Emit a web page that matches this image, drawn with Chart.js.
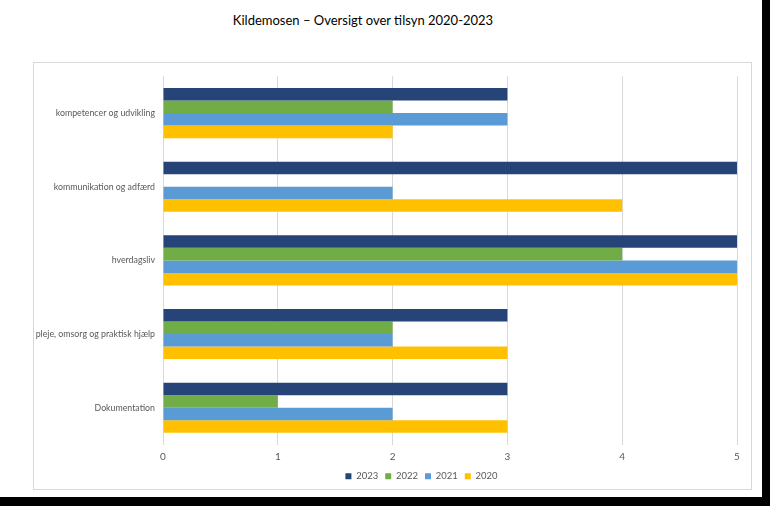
<!DOCTYPE html>
<html>
<head>
<meta charset="utf-8">
<script src="https://cdn.jsdelivr.net/npm/chart.js@4"></script>
<style>
  body { margin: 0; background: #000; }
  #page { position: absolute; left: 0; top: 0; width: 762px; height: 497px; background: #fff; }
  #title { position: absolute; left: 0; width: 726px; top: 12px; text-align: center;
           font-family: Lato, "Open Sans", sans-serif; font-size: 13px; color: #000; }
  #box { position: absolute; left: 33px; top: 62px; width: 717px; height: 426px; border: 1px solid #d9d9d9; }
  #box canvas { display: block; }
</style>
</head>
<body>
<div id="page">
  <div id="title">Kildemosen – Oversigt over tilsyn 2020-2023</div>
  <div id="box"><canvas id="chart" width="717" height="426"></canvas></div>
</div>
<script>
const categories = ['kompetencer og udvikling', 'kommunikation og adfærd', 'hverdagsliv', 'pleje, omsorg og praktisk hjælp', 'Dokumentation'];
const years = ['2023', '2022', '2021', '2020'];
const values2023 = [3, 5, 5, 3, 3];
const values2022 = [2, 0, 4, 2, 1];
const values2021 = [3, 2, 5, 2, 2];
const values2020 = [2, 4, 5, 3, 3];
const colors = ['#264478', '#70AD47', '#5B9BD5', '#FFC000'];
const xTicks = [0, 1, 2, 3, 4, 5];

const series = [values2023, values2022, values2021, values2020];
const fam = 'Lato, "Open Sans", sans-serif';

// legend sits a bit right of centre (and a little higher) in the original
const shiftLegend = {
    id: 'shiftLegend',
    afterLayout(chart) {
        const lg = chart.legend;
        lg.left += 36; lg.right += 36;
        lg.top -= 4; lg.bottom -= 4;
    }
};

new Chart(document.getElementById('chart'), {
    type: 'bar',
    data: {
        labels: categories,
        datasets: series.map((vals, i) => ({
            label: years[i],
            data: vals,
            backgroundColor: colors[i],
            barPercentage: 1,
            categoryPercentage: 0.68
        }))
    },
    options: {
        indexAxis: 'y',
        responsive: false,
        animation: false,
        layout: { padding: { top: 11, right: 14, left: 0, bottom: -6 } },
        scales: {
            x: {
                min: xTicks[0], max: xTicks[xTicks.length - 1],
                ticks: { stepSize: 1, color: '#595959', font: { family: fam, size: 10 }, padding: 6 },
                grid: { color: '#d9d9d9', drawTicks: false },
                border: { display: false }
            },
            y: {
                afterFit: (scale) => { scale.width = 129; },
                ticks: { color: '#595959', font: { family: fam, size: 8.8 }, padding: 8 },
                grid: { display: false, drawTicks: false },
                border: { color: '#d9d9d9' }
            }
        },
        plugins: {
            legend: {
                position: 'bottom',
                labels: { boxWidth: 6, boxHeight: 6, color: '#595959', font: { family: fam, size: 9.5 }, padding: 7 }
            },
            tooltip: { enabled: false }
        }
    },
    plugins: [shiftLegend]
});
</script>
</body>
</html>
